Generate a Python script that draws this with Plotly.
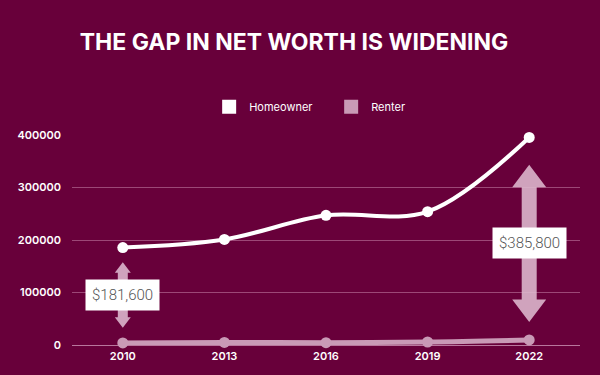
import plotly.graph_objects as go

years = [2010, 2013, 2016, 2019, 2022]
homeowner = [185600, 201000, 247000, 254000, 395400]
renter = [4000, 5000, 4400, 5700, 9600]
gap_years = [2010, 2022]
gap_labels = ["$181,600", "$385,800"]
y_ticks = [0, 100000, 200000, 300000, 400000]

BG = "#68003a"
WHITE = "#ffffff"
PINK = "#c99ab6"
ARROW = "rgba(222,185,207,0.88)"
FONT = "Inter"

fig = go.Figure()

fig.add_trace(go.Scatter(
    x=years, y=renter, mode="lines+markers", name="Renter",
    line=dict(color=PINK, width=5, shape="spline"),
    marker=dict(color=PINK, size=11), showlegend=False, cliponaxis=False,
))
fig.add_trace(go.Scatter(
    x=years, y=homeowner, mode="lines+markers", name="Homeowner",
    line=dict(color=WHITE, width=4, shape="spline", smoothing=1.0),
    marker=dict(color=WHITE, size=11), showlegend=False, cliponaxis=False,
))
# legend-only entries with square swatches
fig.add_trace(go.Scatter(x=[None], y=[None], mode="markers", name="Homeowner",
                         marker=dict(symbol="square", color=WHITE, size=14)))
fig.add_trace(go.Scatter(x=[None], y=[None], mode="markers", name="Renter",
                         marker=dict(symbol="square", color=PINK, size=14)))


def arrow_path(y0, y1, shaft, head, head_h):
    return (f"M {-shaft},{y0 + head_h} L {-head},{y0 + head_h} L 0,{y0} "
            f"L {head},{y0 + head_h} L {shaft},{y0 + head_h} "
            f"L {shaft},{y1 - head_h} L {head},{y1 - head_h} L 0,{y1} "
            f"L {-head},{y1 - head_h} L {-shaft},{y1 - head_h} Z")


arrow_specs = {
    2010: dict(lo=29000, hi=-28000, shaft=5, head=8, head_h=20000),
    2022: dict(lo=34000, hi=-52000, shaft=7.5, head=17, head_h=43000),
}
for yr, label in zip(gap_years, gap_labels):
    i = years.index(yr)
    s = arrow_specs[yr]
    y0 = renter[i] + s["lo"]
    y1 = homeowner[i] + s["hi"]
    fig.add_shape(type="path", xref="x", yref="y", xsizemode="pixel", xanchor=yr,
                  path=arrow_path(y0, y1, s["shaft"], s["head"], s["head_h"]),
                  fillcolor=ARROW, line=dict(width=0), layer="above")
    fig.add_annotation(x=yr, y=(y0 + y1) / 2, text=label, showarrow=False,
                       bgcolor=WHITE, borderpad=6,
                       font=dict(family="Roboto", size=15, color="#555555", weight=300))

fig.update_layout(
    width=600, height=375,
    paper_bgcolor=BG, plot_bgcolor=BG,
    margin=dict(l=72, r=20, t=135, b=30),
    title=dict(text="THE GAP IN NET WORTH IS WIDENING", x=0.49, xanchor="center",
               y=1 - 42 / 375, yanchor="middle",
               font=dict(family=FONT, size=23, color=WHITE, weight=700)),
    legend=dict(orientation="h", x=0.27, xanchor="left", y=1.135, yanchor="middle",
                font=dict(family=FONT, size=11, color=WHITE), itemwidth=30,
                entrywidth=77, bgcolor="rgba(0,0,0,0)"),
    showlegend=True,
    xaxis=dict(range=[2008.5, 2023.5], tickvals=years, ticktext=[str(y) for y in years],
               showgrid=False, zeroline=False, showline=False, ticks="",
               ticklabelstandoff=3,
               tickfont=dict(family=FONT, size=11, color=WHITE, weight=600)),
    yaxis=dict(range=[0, 400000], tickvals=y_ticks, tickformat="d",
               showgrid=True, gridcolor="rgba(220,160,195,0.45)", gridwidth=1,
               zeroline=True, zerolinecolor="rgba(220,170,200,0.7)", zerolinewidth=1,
               showline=False, ticks="", ticklabelstandoff=10,
               tickfont=dict(family=FONT, size=11, color=WHITE, weight=600)),
)

fig.write_html("out.html", config={"displayModeBar": False},
               post_script="document.body.style.margin='0';")
